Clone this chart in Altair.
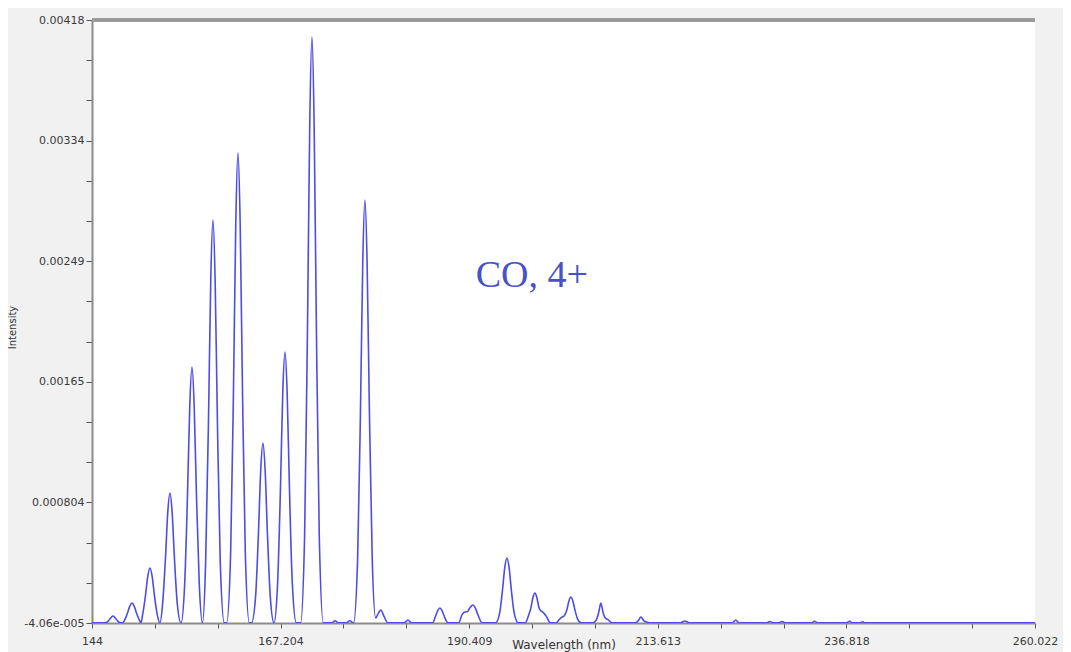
import altair as alt
import pandas as pd

# ---- spectrum (wavelength nm, intensity) ----
wavelength = [
    144.0,
    145.38, 145.88, 146.15, 146.58, 147.01, 147.28,
    147.75,
    148.02, 148.37, 148.65, 148.92, 149.19, 149.47, 149.82,
    150.02,
    150.23, 150.58, 150.86, 151.13, 151.40, 151.68, 152.03,
    152.36,
    152.69, 153.04, 153.32, 153.59, 153.86, 154.14, 154.49,
    154.95,
    155.40, 155.75, 156.03, 156.30, 156.57, 156.85, 157.20,
    157.59,
    157.98, 158.33, 158.61, 158.88, 159.15, 159.43, 159.78, 160.28,
    160.56, 161.06, 161.41, 161.69, 161.96, 162.23, 162.51, 162.86, 163.36,
    163.63, 164.13, 164.48, 164.76, 165.03, 165.30, 165.58, 165.93,
    166.39,
    166.84, 167.19, 167.47, 167.74, 168.01, 168.29, 168.64, 169.14,
    169.66, 170.16, 170.51, 170.79, 171.06, 171.33, 171.61, 171.96, 172.46,
    173.5, 173.9, 174.3,
    175.3, 175.7, 176.18,
    176.68, 177.03, 177.31, 177.58, 177.85, 178.13, 178.48, 178.9,
    179.25, 179.55, 179.9, 180.4,
    182.4, 182.87, 183.3,
    185.9, 186.3, 186.55, 186.80, 187.05, 187.3, 187.8,
    189.1, 189.55, 189.88, 190.2, 190.5, 190.86, 191.15, 191.45, 192.0,
    193.65, 194.15, 194.50, 194.78, 195.05, 195.32, 195.60, 195.95, 196.45,
    197.3, 197.7, 198.0, 198.25, 198.49, 198.73, 198.98, 199.2, 199.47, 199.85, 200.4,
    201.1, 201.5, 201.81, 202.1, 202.42, 202.68, 202.92, 203.16, 203.42, 203.75, 204.2,
    205.6, 206.05, 206.33, 206.61, 206.89, 207.15, 207.45, 208.0,
    210.8, 211.2, 211.53, 211.9, 212.3, 212.8,
    216.4, 216.94, 217.5,
    222.8, 223.2, 223.6,
    227.0, 227.4, 227.8,
    228.5, 228.9, 229.3,
    232.5, 232.9, 233.3,
    236.8, 237.2, 237.6,
    238.5, 238.8, 239.1,
    260.022,
]

intensity = [
    -0.00004,
    -0.00004, -0.000033, -0.000016, 0.000008, -0.000016, -0.000033,
    -0.00004,
    -0.000019, 0.000030, 0.000078, 0.000099, 0.000078, 0.000030, -0.000019,
    -0.00004,
    0.000018, 0.000152, 0.000286, 0.000344, 0.000286, 0.000152, 0.000018,
    -0.00004,
    0.000096, 0.000415, 0.000733, 0.000869, 0.000733, 0.000415, 0.000096,
    -0.00004,
    0.000229, 0.000856, 0.001482, 0.001751, 0.001482, 0.000856, 0.000229,
    -0.00004,
    0.000383, 0.00137, 0.002357, 0.00278, 0.002357, 0.00137, 0.000383, -0.00004,
    -0.00004, 0.000453, 0.001605, 0.002756, 0.003249, 0.002756, 0.001605, 0.000453, -0.00004,
    -0.00004, 0.000149, 0.00059, 0.00103, 0.001219, 0.00103, 0.00059, 0.000149,
    -0.00004,
    0.000244, 0.000908, 0.001572, 0.001856, 0.001572, 0.000908, 0.000244, -0.00004,
    -0.00004, 0.000575, 0.00201, 0.003446, 0.004061, 0.003446, 0.00201, 0.000575, -0.00004,
    -0.00004, -0.000025, -0.00004,
    -0.00004, -0.000025, -0.00004,
    0.000404, 0.00144, 0.002476, 0.00292, 0.002476, 0.00144, 0.000404, -0.000005,
    0.00003, 0.00005, 0.00001, -0.00004,
    -0.00004, -0.00002, -0.00004,
    -0.00004, 0.000012, 0.000048, 0.000064, 0.000048, 0.000012, -0.00004,
    -0.00004, 0.00002, 0.000036, 0.00004, 0.000066, 0.000085, 0.000066, 0.000022, -0.00004,
    -0.00004, 0.000028, 0.000187, 0.000346, 0.000414, 0.000346, 0.000187, 0.000028, -0.00004,
    -0.00004, 0.00001, 0.000065, 0.000138, 0.000169, 0.000138, 0.00007, 0.000045, 0.000036, 0.00001, -0.00004,
    -0.00004, -0.000015, 0.0, 0.00001, 0.00005, 0.000114, 0.000141, 0.000114, 0.00005, -0.000013, -0.00004,
    -0.00004, -0.000019, 0.00003, 0.000099, 0.00003, -0.000005, -0.000015, -0.00004,
    -0.00004, -0.000025, 0.000001, -0.000025, -0.000035, -0.00004,
    -0.00004, -0.000027, -0.00004,
    -0.00004, -0.00002, -0.00004,
    -0.00004, -0.00003, -0.00004,
    -0.00004, -0.00003, -0.00004,
    -0.00004, -0.000028, -0.00004,
    -0.00004, -0.000028, -0.00004,
    -0.00004, -0.000032, -0.00004,
    -0.00004,
]

# ---- axes ----
x_min, x_max = 144.0, 260.022
x_labels = ["144", "167.204", "190.409", "213.613", "236.818", "260.022"]
y_min, y_max = -4.06e-5, 0.00418
y_labels = ["-4.06e-005", "0.000804", "0.00165", "0.00249", "0.00334", "0.00418"]

# annotation
note_text = ["CO, 4+"]
note_x = [191.2]
note_y = [0.00231]

x_ticks = [x_min + i * (x_max - x_min) / 15 for i in range(16)]
y_ticks = [y_min + i * (y_max - y_min) / 15 for i in range(16)]


def label_expr(ticks, labels, tol):
    expr = "''"
    for i in range(len(ticks) - 1, -1, -1):
        if i % 3 == 0:
            expr = f"abs(datum.value - ({ticks[i]!r})) < {tol} ? '{labels[i // 3]}' : " + expr
    return expr


df = pd.DataFrame({"wavelength": wavelength, "intensity": intensity})
notes = pd.DataFrame({"wavelength": note_x, "intensity": note_y, "label": note_text})

x_axis = alt.Axis(
    values=x_ticks,
    labelExpr=label_expr(x_ticks, x_labels, 0.001),
    tickSize=5, tickColor="#555555", tickWidth=1,
    domainColor="#8c8c8c", domainWidth=2,
    labelFont="DejaVu Sans", labelFontSize=11, labelColor="#3a3a3a",
    labelPadding=7, labelFlush=False, labelOverlap=False, grid=False,
    title="Wavelength (nm)", titleFont="DejaVu Sans", titleFontSize=12,
    titleFontWeight="normal", titleColor="#333333",
    titleBaseline="top", titleY=16,
)
y_axis = alt.Axis(
    values=y_ticks,
    labelExpr=label_expr(y_ticks, y_labels, 1e-7),
    tickSize=6, tickColor="#555555", tickWidth=1,
    domainColor="#8c8c8c", domainWidth=2,
    labelFont="DejaVu Sans", labelFontSize=11, labelColor="#3a3a3a",
    labelPadding=2, labelFlush=False, labelOverlap=False, grid=False,
    title="Intensity", titleFont="DejaVu Sans", titleFontSize=10,
    titleFontWeight="normal", titleColor="#333333",
    titleAngle=270, titleX=-75, titleY=307, titleAlign="center",
    titleBaseline="bottom",
)

x_enc = alt.X("wavelength:Q", scale=alt.Scale(domain=[x_min, x_max], nice=False, zero=False), axis=x_axis)
y_enc = alt.Y("intensity:Q", scale=alt.Scale(domain=[y_min, y_max], nice=False, zero=False), axis=y_axis)

line = alt.Chart(df).mark_line(
    color="#4c4ce6", strokeWidth=1.6, interpolate="monotone", clip=True
).encode(x=x_enc, y=y_enc, order="wavelength:Q")

text = alt.Chart(notes).mark_text(
    font="Liberation Serif", fontSize=38, color="#4652c8", align="left", baseline="alphabetic"
).encode(x=x_enc, y=y_enc, text="label:N")

top_line = alt.Chart(df).mark_rule(color="#9a9a9a", strokeWidth=2.5).encode(
    x=alt.value(0), x2=alt.value(943), y=alt.value(0)
)

chart = alt.layer(line, text, top_line).properties(
    width=943,
    height=603,
    autosize=alt.AutoSizeParams(type="none"),
    padding={"left": 84, "top": 12, "right": 28, "bottom": 40},
    background="#f1f1f1",
).configure_view(stroke=None, fill="#ffffff")

chart.save("out.html", embed_options={"renderer": "svg", "actions": False})
